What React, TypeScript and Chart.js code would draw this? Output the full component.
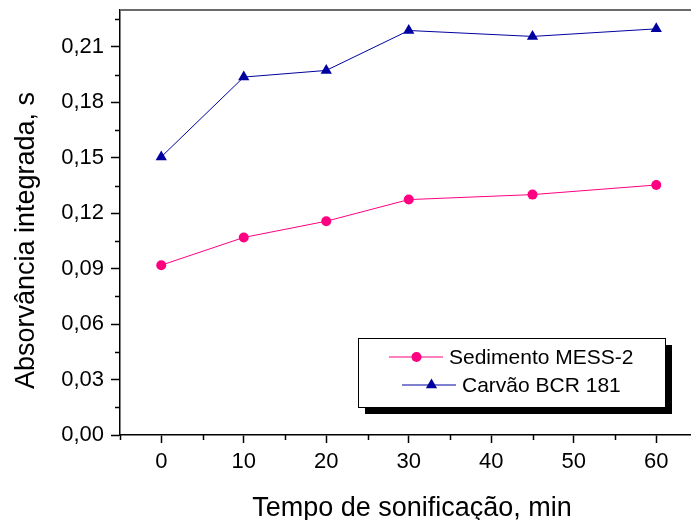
import React, { useEffect, useRef } from "react";
import { Chart, registerables } from "chart.js";

Chart.register(...registerables);

// ---- data ----
const tempos = [0, 10, 20, 30, 45, 60];
const sedimentoMESS2 = [0.0919, 0.1069, 0.1157, 0.1274, 0.1301, 0.1353];
const carvaoBCR181 = [0.1505, 0.1937, 0.1973, 0.2189, 0.2157, 0.2198];
const xMajorTicks = [0, 10, 20, 30, 40, 50, 60];
const xMinorTicks = [-5, 5, 15, 25, 35, 45, 55, 65];
const yMajorTicks = [0, 0.03, 0.06, 0.09, 0.12, 0.15, 0.18, 0.21];
const yMinorTicks = [0.015, 0.045, 0.075, 0.105, 0.135, 0.165, 0.195, 0.225];
const seriesNames = ["Sedimento MESS-2", "Carvão BCR 181"];
const xTitle = "Tempo de sonificação, min";
const yTitle = "Absorvância integrada, s";

const FONT = "'Liberation Sans', Arial, Helvetica, sans-serif";
const PINK = "#FF0080";
const BLUE = "#0000A0";

const decorPlugin = {
  id: "decor",
  afterDraw(chart: any) {
    const { ctx, chartArea, scales } = chart;
    const xs = scales.x;
    const ys = scales.y;
    ctx.save();
    // top frame line
    ctx.strokeStyle = "#6a6a6a";
    ctx.lineWidth = 2;
    ctx.beginPath();
    ctx.moveTo(chartArea.left, chartArea.top);
    ctx.lineTo(chartArea.right, chartArea.top);
    ctx.stroke();
    // minor ticks
    ctx.strokeStyle = "#000";
    ctx.lineWidth = 1.5;
    ctx.beginPath();
    xMinorTicks.forEach((v) => {
      const px = Math.round(xs.getPixelForValue(v)) + 0.5;
      ctx.moveTo(px, chartArea.bottom);
      ctx.lineTo(px, chartArea.bottom + 5);
    });
    yMinorTicks.forEach((v) => {
      const py = Math.round(ys.getPixelForValue(v)) + 0.5;
      ctx.moveTo(chartArea.left, py);
      ctx.lineTo(chartArea.left - 5, py);
    });
    ctx.stroke();

    // axis titles
    ctx.fillStyle = "#000";
    ctx.font = `27px ${FONT}`;
    ctx.textAlign = "center";
    ctx.textBaseline = "alphabetic";
    ctx.fillText(xTitle, 412, 516);
    ctx.save();
    ctx.translate(34, 240.5);
    ctx.rotate(-Math.PI / 2);
    ctx.fillText(yTitle, 0, 0);
    ctx.restore();

    // legend
    const bx = 358, by = 338, bw = 307, bh = 69, sh = 7;
    ctx.fillStyle = "#000";
    ctx.fillRect(bx + sh, by + sh, bw, bh);
    ctx.fillStyle = "#fff";
    ctx.fillRect(bx, by, bw, bh);
    ctx.strokeStyle = "#000";
    ctx.lineWidth = 1;
    ctx.strokeRect(bx + 0.5, by + 0.5, bw, bh);

    const rows = [
      { x1: 389, x2: 443, mx: 416.5, y: 357, tx: 449 },
      { x1: 402, x2: 456, mx: 431.5, y: 385, tx: 462 },
    ];
    chart.data.datasets.forEach((ds: any, i: number) => {
      const r = rows[i];
      ctx.strokeStyle = ds.borderColor;
      ctx.lineWidth = 1;
      ctx.beginPath();
      ctx.moveTo(r.x1, r.y);
      ctx.lineTo(r.x2, r.y);
      ctx.stroke();
      ctx.fillStyle = ds.pointBackgroundColor;
      ctx.beginPath();
      if (ds.pointStyle === "triangle") {
        const rad = ds.pointRadius;
        ctx.moveTo(r.mx, r.y - rad);
        ctx.lineTo(r.mx + rad * 0.866, r.y + rad * 0.5);
        ctx.lineTo(r.mx - rad * 0.866, r.y + rad * 0.5);
        ctx.closePath();
      } else {
        ctx.arc(r.mx, r.y, ds.pointRadius, 0, Math.PI * 2);
      }
      ctx.fill();
      ctx.fillStyle = "#000";
      ctx.font = `21px ${FONT}`;
      ctx.textAlign = "left";
      ctx.textBaseline = "middle";
      ctx.fillText(ds.label, r.tx, r.y + 1);
    });
    ctx.restore();
  },
};

export default function App() {
  const ref = useRef<HTMLCanvasElement | null>(null);
  useEffect(() => {
    document.body.style.margin = "0";
    const canvas = ref.current!;
    const chart = new Chart(canvas, {
      type: "line",
      data: {
        datasets: [
          {
            label: seriesNames[0],
            data: tempos.map((t, i) => ({ x: t, y: sedimentoMESS2[i] })),
            borderColor: PINK,
            backgroundColor: PINK,
            pointBackgroundColor: PINK,
            pointBorderColor: PINK,
            pointStyle: "circle",
            pointRadius: 5,
            pointBorderWidth: 0,
            borderWidth: 1,
            tension: 0,
          },
          {
            label: seriesNames[1],
            data: tempos.map((t, i) => ({ x: t, y: carvaoBCR181[i] })),
            borderColor: BLUE,
            backgroundColor: BLUE,
            pointBackgroundColor: BLUE,
            pointBorderColor: BLUE,
            pointStyle: "triangle",
            pointRadius: 6.5,
            pointBorderWidth: 0,
            borderWidth: 1,
            tension: 0,
          },
        ],
      },
      plugins: [decorPlugin],
      options: {
        animation: false,
        responsive: false,
        devicePixelRatio: 1,
        layout: { padding: { top: 10, left: 0, right: 0, bottom: 0 } },
        plugins: { legend: { display: false }, tooltip: { enabled: false } },
        scales: {
          x: {
            type: "linear",
            min: -5,
            max: 65,
            afterFit: (s: any) => {
              s.height = 85;
              s.paddingLeft = 0;
              s.paddingRight = 0;
            },
            afterBuildTicks: (s: any) => {
              s.ticks = xMajorTicks.map((v) => ({ value: v }));
            },
            ticks: {
              autoSkip: false,
              maxRotation: 0,
              padding: 6,
              color: "#000",
              font: { family: FONT, size: 22 },
              callback: (v: any) => String(v),
            },
            grid: {
              drawOnChartArea: false,
              drawTicks: true,
              tickLength: 8,
              tickColor: "#000",
              tickWidth: 1.5,
            },
            border: { color: "#000", width: 1.5 },
          },
          y: {
            type: "linear",
            min: 0,
            max: 0.23,
            afterFit: (s: any) => {
              s.width = 120;
              s.paddingTop = 0;
              s.paddingBottom = 0;
            },
            afterBuildTicks: (s: any) => {
              s.ticks = yMajorTicks.map((v) => ({ value: v }));
            },
            ticks: {
              autoSkip: false,
              padding: 7,
              color: "#000",
              font: { family: FONT, size: 22 },
              callback: (v: any) => Number(v).toFixed(2).replace(".", ","),
            },
            grid: {
              drawOnChartArea: false,
              drawTicks: true,
              tickLength: 9,
              tickColor: "#000",
              tickWidth: 1.5,
            },
            border: { color: "#000", width: 1.5 },
          },
        },
      },
    });
    return () => chart.destroy();
  }, []);
  return (
    <div
      style={{
        position: "absolute",
        left: 0,
        top: 0,
        width: 691,
        height: 520,
        overflow: "hidden",
        background: "#fff",
      }}
    >
      <canvas ref={ref} width={704} height={520} style={{ width: 704, height: 520, display: "block" }} />
    </div>
  );
}
